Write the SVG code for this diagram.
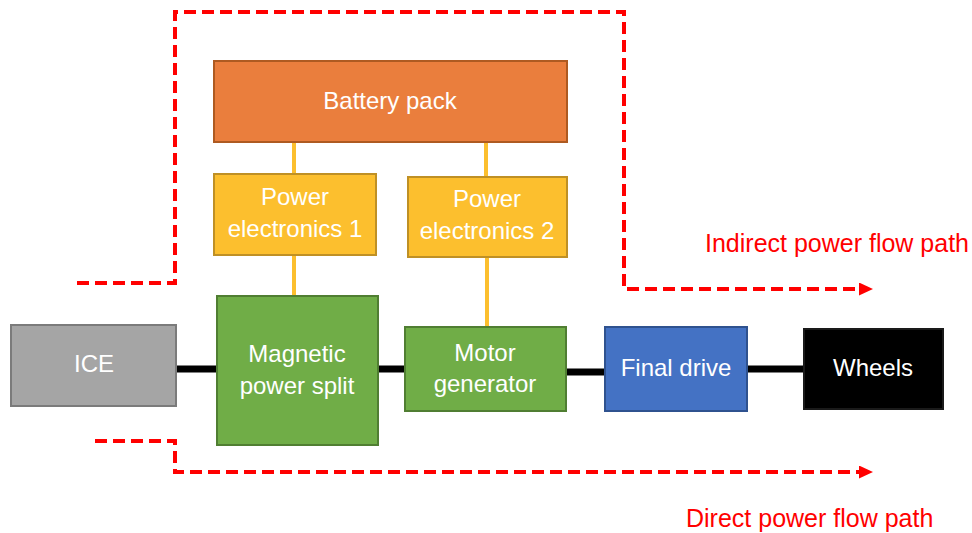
<svg xmlns="http://www.w3.org/2000/svg" width="972" height="533" viewBox="0 0 972 533">
<style>
  text { font-family: "Liberation Sans", Arial, sans-serif; font-size: 24px; text-anchor: middle; }
  .lbl { fill: #ffffff; }
  .red { fill: #FF0000; text-anchor: start; font-size: 25px; }
  .node rect { stroke-width: 2; }
  .bat { fill: #EA7E3D; stroke: #AE5A21; }
  .pe { fill: #FCBF2E; stroke: #BF9025; }
  .grn { fill: #70AD47; stroke: #507E32; }
  .gry { fill: #A5A5A5; stroke: #7B7B7B; }
  .blu { fill: #4472C4; stroke: #2F528F; }
  .blk { fill: #000000; stroke: #1a1a1a; }
  .shaft { stroke: #000000; stroke-width: 7; fill: none; }
  .elec { stroke: #FCBF2E; stroke-width: 4; fill: none; }
  .flow { stroke: #FF0000; stroke-width: 4; fill: none; stroke-dasharray: 12 6; marker-end: url(#arr); }
</style>
<defs>
  <marker id="arr" viewBox="0 0 14 13" markerWidth="14" markerHeight="13" refX="2" refY="6.5" orient="auto" markerUnits="userSpaceOnUse">
    <path d="M0,0 L14,6.5 L0,13 z" fill="#FF0000"/>
  </marker>
</defs>

<g id="connectors">
  <line class="shaft" x1="176" y1="369" x2="217" y2="369"/>
  <line class="shaft" x1="378" y1="369" x2="405" y2="369"/>
  <line class="shaft" x1="566" y1="372" x2="605" y2="372"/>
  <line class="shaft" x1="747" y1="369" x2="804" y2="369"/>
  <line class="elec" x1="294" y1="142" x2="294" y2="174"/>
  <line class="elec" x1="294" y1="255" x2="294" y2="296"/>
  <line class="elec" x1="486" y1="142" x2="486" y2="177"/>
  <line class="elec" x1="487" y1="257" x2="487" y2="327"/>
  <path class="flow" d="M77,283 H175 V12 H624 V289 H861"/>
  <path class="flow" d="M95,441 H175 V472 H861"/>
</g>

<g id="battery" class="node">
  <rect class="bat" x="214" y="61" width="353" height="81"/>
  <text class="lbl" x="390" y="109">Battery pack</text>
</g>
<g id="pe1" class="node">
  <rect class="pe" x="214" y="174" width="162" height="81"/>
  <text class="lbl" x="295" y="205">Power</text>
  <text class="lbl" x="295" y="237">electronics 1</text>
</g>
<g id="pe2" class="node">
  <rect class="pe" x="408" y="177" width="159" height="80"/>
  <text class="lbl" x="487" y="207">Power</text>
  <text class="lbl" x="487" y="239">electronics 2</text>
</g>
<g id="ice" class="node">
  <rect class="gry" x="11" y="325" width="165" height="81"/>
  <text class="lbl" x="94" y="372">ICE</text>
</g>
<g id="mps" class="node">
  <rect class="grn" x="217" y="296" width="161" height="149"/>
  <text class="lbl" x="297" y="362">Magnetic</text>
  <text class="lbl" x="297" y="394">power split</text>
</g>
<g id="mg" class="node">
  <rect class="grn" x="405" y="327" width="161" height="84"/>
  <text class="lbl" x="485" y="361">Motor</text>
  <text class="lbl" x="485" y="392">generator</text>
</g>
<g id="finaldrive" class="node">
  <rect class="blu" x="605" y="327" width="142" height="84"/>
  <text class="lbl" x="676" y="376">Final drive</text>
</g>
<g id="wheels" class="node">
  <rect class="blk" x="804" y="329" width="139" height="80"/>
  <text class="lbl" x="873" y="376">Wheels</text>
</g>

<g id="labels">
  <text class="red" x="705" y="252">Indirect power flow path</text>
  <text class="red" x="686" y="527">Direct power flow path</text>
</g>
</svg>
